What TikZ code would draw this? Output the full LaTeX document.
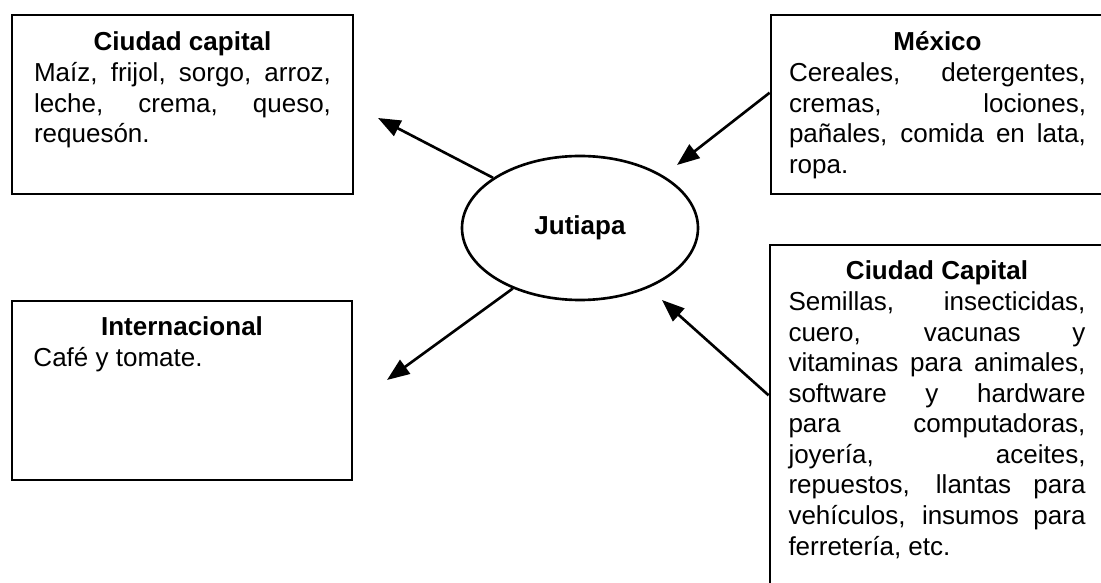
\documentclass[tikz,border=0pt]{standalone}
\usepackage{fontspec}
\setmainfont{Liberation Sans}
\usetikzlibrary{positioning,shapes.geometric,arrows.meta}
\newcommand{\boxtitle}[1]{{\centering\rule{0pt}{1em}\textbf{#1}\par}}

\begin{document}
\begin{tikzpicture}[
	caja/.style={draw, line width=1.6pt, inner sep=0pt},
	texto/.style={inner sep=0pt, text width=5.94cm, align=justify,
		font=\fontsize{14.8}{17.4}\selectfont,
		execute at begin node={\sloppy\hyphenpenalty=10000\parindent=0pt}},
	flecha/.style={line width=1.5pt, -{Triangle[length=0.45cm,width=0.34cm]}}
	]
	\useasboundingbox (0,0) rectangle (22.02,11.66);
	\clip (0,0) rectangle (22.02,11.66);
	
	\node[ellipse, draw, line width=1.5pt, minimum width=4.72cm, minimum height=2.88cm,
		font=\fontsize{14.8}{17.4}\selectfont\bfseries] (jut) at (11.6,7.1) {Jutiapa};
	
	\node[caja, minimum width=6.82cm, minimum height=3.58cm] (cc) at (3.65,9.57) {};
	\node[texto, below=0.22cm of cc.north] (cctxt) {\boxtitle{Ciudad capital}Maíz, frijol, sorgo, arroz,\linebreak leche, crema, queso,\linebreak requesón.};
	
	\node[caja, minimum width=6.66cm, minimum height=3.58cm] (mx) at (18.75,9.57) {};
	\node[texto, below=0.22cm of mx.north] (mxtxt) {\boxtitle{México}Cereales, detergentes,\linebreak cremas, lociones,\linebreak pañales, comida en lata,\linebreak ropa.};
	
	\node[caja, minimum width=6.80cm, minimum height=3.58cm] (intl) at (3.64,3.85) {};
	\node[texto, below=0.2cm of intl.north] (intltxt) {\boxtitle{Internacional}Café y tomate.};
	
	\node[caja, minimum width=6.68cm, minimum height=7.2cm] (cap) at (18.74,3.16) {};
	\node[texto, below=0.2cm of cap.north] (captxt) {\boxtitle{Ciudad Capital}Semillas, insecticidas,\linebreak cuero, vacunas y\linebreak vitaminas para animales,\linebreak software y hardware\linebreak para computadoras,\linebreak joyería, aceites,\linebreak repuestos, llantas para\linebreak vehículos, insumos para\linebreak ferretería, etc.};
	
	\coordinate (t1) at (7.56,9.30);
	\coordinate (t2) at (13.54,8.36);
	\coordinate (t3) at (7.74,4.06);
	\coordinate (t4) at (13.24,5.66);
	
	\draw[flecha] (jut.150) -- (t1);
	\draw[flecha] (mx.176) -- (t2);
	\draw[flecha] (jut.222) -- (t3);
	\draw[flecha] (cap.170) -- (t4);
\end{tikzpicture}
\end{document}
